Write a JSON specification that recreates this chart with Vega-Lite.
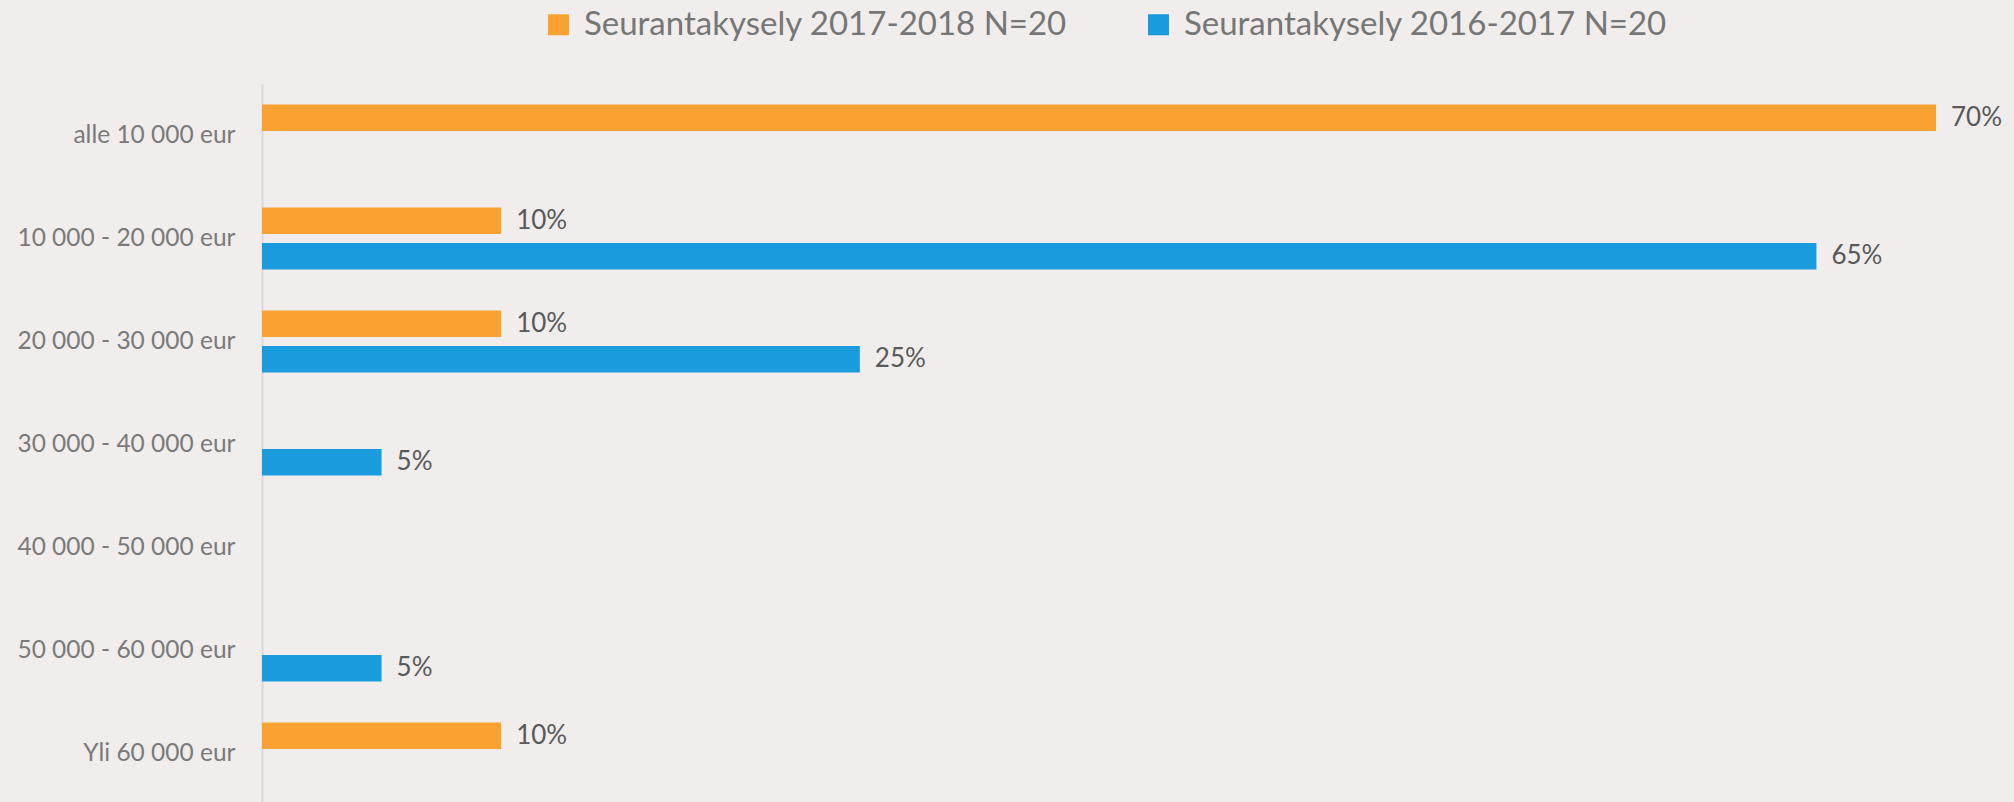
{
  "$schema": "https://vega.github.io/schema/vega-lite/v6.json",
  "width": 1674,
  "height": 721,
  "autosize": {"type": "none"},
  "padding": {"left": 262, "top": 84, "right": 78, "bottom": 0},
  "background": "#f0edec",
  "config": {
    "view": {"stroke": null},
    "font": "Lato"
  },
  "data": {
    "values": [
      {"category": "alle 10 000 eur", "series": "Seurantakysely 2017-2018 N=20", "value": 0.70},
      {"category": "10 000 - 20 000 eur", "series": "Seurantakysely 2017-2018 N=20", "value": 0.10},
      {"category": "10 000 - 20 000 eur", "series": "Seurantakysely 2016-2017 N=20", "value": 0.65},
      {"category": "20 000 - 30 000 eur", "series": "Seurantakysely 2017-2018 N=20", "value": 0.10},
      {"category": "20 000 - 30 000 eur", "series": "Seurantakysely 2016-2017 N=20", "value": 0.25},
      {"category": "30 000 - 40 000 eur", "series": "Seurantakysely 2016-2017 N=20", "value": 0.05},
      {"category": "50 000 - 60 000 eur", "series": "Seurantakysely 2016-2017 N=20", "value": 0.05},
      {"category": "Yli 60 000 eur", "series": "Seurantakysely 2017-2018 N=20", "value": 0.10}
    ]
  },
  "encoding": {
    "y": {
      "field": "category",
      "type": "nominal",
      "title": null,
      "scale": {
        "domain": ["alle 10 000 eur", "10 000 - 20 000 eur", "20 000 - 30 000 eur", "30 000 - 40 000 eur", "40 000 - 50 000 eur", "50 000 - 60 000 eur", "Yli 60 000 eur"],
        "paddingInner": 0.4,
        "paddingOuter": 0.2
      },
      "axis": {
        "ticks": false,
        "labelPadding": 27,
        "labelFontSize": 24.5,
        "labelLimit": 0,
        "labelColor": "#7a7a7a",
        "labelFont": "Lato",
        "domainColor": "#d9d9d9",
        "domainWidth": 2
      }
    },
    "yOffset": {
      "field": "series",
      "type": "nominal",
      "scale": {
        "domain": ["Seurantakysely 2017-2018 N=20", "Seurantakysely 2016-2017 N=20"],
        "paddingInner": 0.257,
        "paddingOuter": 0
      }
    },
    "x": {
      "field": "value",
      "type": "quantitative",
      "scale": {"domain": [0, 0.7], "nice": false, "zero": true},
      "axis": null
    }
  },
  "layer": [
    {
      "mark": {"type": "bar", "cornerRadius": 0},
      "encoding": {
        "color": {
          "field": "series",
          "type": "nominal",
          "scale": {
            "domain": ["Seurantakysely 2017-2018 N=20", "Seurantakysely 2016-2017 N=20"],
            "range": ["#f9a232", "#199bde"]
          },
          "legend": {
            "title": null,
            "orient": "none",
            "direction": "horizontal",
            "legendX": 280,
            "legendY": -76,
            "symbolType": "square",
            "symbolSize": 440,
            "symbolStrokeWidth": 0,
            "labelFontSize": 33,
            "labelColor": "#767676",
            "labelFont": "Lato",
            "labelOffset": 9,
            "columnPadding": 74,
            "labelLimit": 0
          }
        }
      }
    },
    {
      "mark": {
        "type": "text",
        "align": "left",
        "baseline": "middle",
        "dx": 15,
        "fontSize": 26,
        "color": "#595959",
        "clip": false
      },
      "encoding": {
        "text": {"field": "value", "type": "quantitative", "format": ".0%"}
      }
    }
  ]
}
